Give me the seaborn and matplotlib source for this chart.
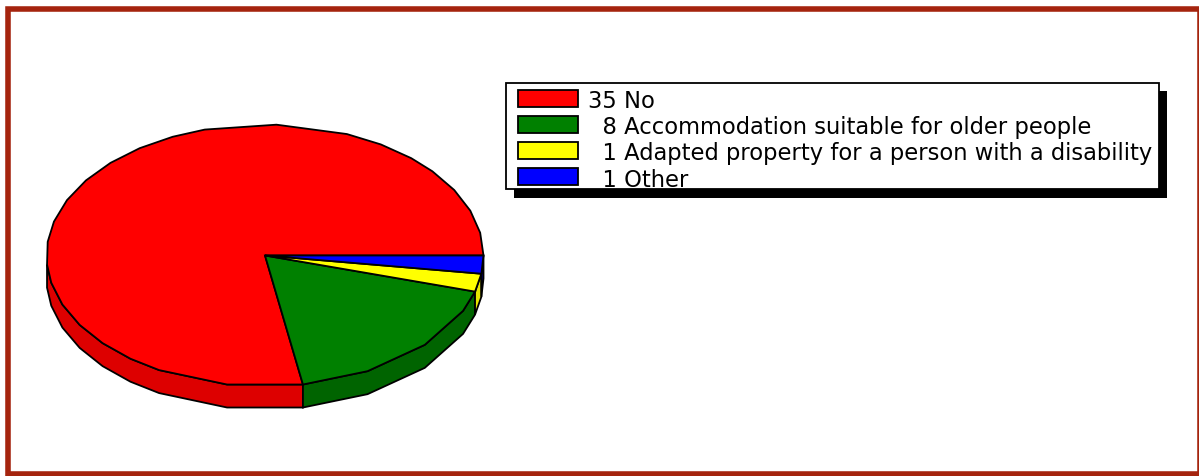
"""Housing need pie chart, drawn with a faux 3D wall."""
import numpy as np
import matplotlib
matplotlib.use("Agg")
import matplotlib.pyplot as plt
from matplotlib.patches import Rectangle
import seaborn as sns

labels = ["No", "Accommodation suitable for older people",
          "Adapted property for a person with a disability", "Other"]
counts = [35, 8, 1, 1]
top_colors = ["#FF0000", "#008000", "#FFFF00", "#0000FF"]
wall_colors = ["#DD0000", "#006400", "#E6E600", "#0000DD"]
border_color = "#A5240E"

sns.set_theme(style="white")
plt.rcParams["font.family"] = ["DejaVu Sans"]

# pixel coordinates, y going down
fig = plt.figure(figsize=(11.99, 4.77), dpi=100)
ax = fig.add_axes([0, 0, 1, 1])
ax.set_xlim(0, 1199)
ax.set_ylim(477, 0)
ax.axis("off")

cx, cy, rx, ry, depth = 265, 256.5, 218.5, 131, 23
line = 1.3
wall_end = 176
# the outline is a coarse polygon with uneven corners
corners = np.array([25, 43, 62, 100, 119, 128, 138, 148, 158, 168, 176, 186, 195, 205, 215, 225, 235,
                    245, 254, 273, 292, 302, 312, 320, 330, 340, 350])


def arc(a0, a1):
    inner = corners[(corners > a0) & (corners < a1)]
    ang = np.radians(np.concatenate([[a0], inner, [a1]]))
    return cx + rx * np.cos(ang), cy + ry * np.sin(ang)


# slices run clockwise from 3 o'clock, last category first
edges = np.cumsum([0] + counts[::-1]) / sum(counts) * 360
spans = list(zip(edges[:-1], edges[1:]))[::-1]

for (a0, a1), col in zip(spans, wall_colors):
    if a0 < wall_end:
        x, y = arc(a0, min(a1, wall_end))
        ax.fill(np.r_[x, x[::-1]], np.r_[y, y[::-1] + depth], fc=col, ec="black", lw=line, zorder=2)

for (a0, a1), col in zip(spans, top_colors):
    x, y = arc(a0, a1)
    ax.fill(np.r_[cx, x], np.r_[cy, y], fc=col, ec="black", lw=line, zorder=3)

ax.add_patch(Rectangle((8, 9.5), 1192, 465, fill=False, ec=border_color, lw=4, zorder=5))

# legend box with a hard shadow
ax.add_patch(Rectangle((514, 92), 653, 107, fc="black", ec="none", zorder=6))
ax.add_patch(Rectangle((506, 84), 653, 106, fc="white", ec="black", lw=line, zorder=7))

# two spaces are one digit wide, so the counts line up
for i, (n, s, col) in enumerate(zip(counts, labels, top_colors)):
    ax.add_patch(Rectangle((518, 90.5 + 26 * i), 60, 17, fc=col, ec="black", lw=line, zorder=8))
    txt = f"{n:>2}".replace(" ", "  ") + " " + s
    ax.text(588, 108 + 26.2 * i, txt, fontsize=16.3, color="black", va="baseline", zorder=8)

fig.savefig("out.png", dpi=100)
